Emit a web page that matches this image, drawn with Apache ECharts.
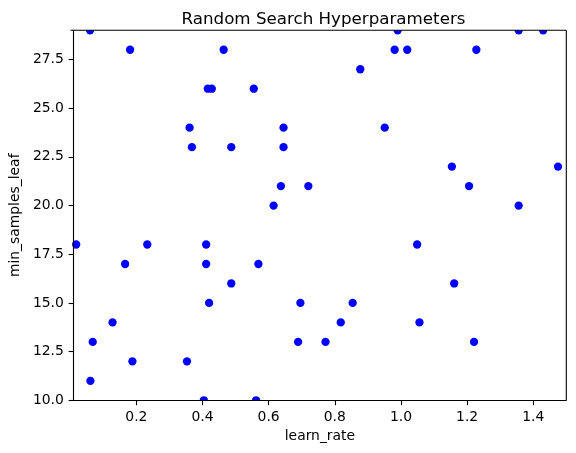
<!DOCTYPE html>
<html>
<head>
<meta charset="utf-8">
<script src="https://cdn.jsdelivr.net/npm/echarts@6/dist/echarts.min.js"></script>
<style>html,body{margin:0;padding:0;background:#fff}#c{width:576px;height:453px}</style>
</head>
<body>
<div id="c"></div>
<script>
const learnRate = [
  0.060, 0.990, 1.356, 1.430,
  0.181, 0.464, 0.981, 1.019, 1.228,
  0.877,
  0.416, 0.428, 0.555,
  0.361, 0.645, 0.951,
  0.368, 0.487, 0.645,
  1.154, 1.475,
  0.637, 0.720, 1.206,
  0.615, 1.356,
  0.018, 0.233, 0.411, 1.049,
  0.166, 0.411, 0.569,
  0.487, 1.161,
  0.420, 0.696, 0.854,
  0.128, 0.818, 1.056,
  0.068, 0.689, 0.772, 1.221,
  0.188, 0.353,
  0.061,
  0.404, 0.562
];
const minSamplesLeaf = [
  29, 29, 29, 29,
  28, 28, 28, 28, 28,
  27,
  26, 26, 26,
  24, 24, 24,
  23, 23, 23,
  22, 22,
  21, 21, 21,
  20, 20,
  18, 18, 18, 18,
  17, 17, 17,
  16, 16,
  15, 15, 15,
  14, 14, 14,
  13, 13, 13, 13,
  12, 12,
  11,
  10, 10
];
const xTicks = [0.2, 0.4, 0.6, 0.8, 1.0, 1.2, 1.4];
const yTicks = [10, 12.5, 15, 17.5, 20, 22.5, 25, 27.5];
const xRange = [0.01, 1.5];
const yRange = [10, 29];

const font = 'DejaVu Sans';
const G = {left: 70.5, top: 30.3, width: 495.8, height: 370};
const W = 576, H = 453;
const chart = echarts.init(document.getElementById('c'), null, {renderer: 'canvas'});
function axis(extra, ticks) {
  return Object.assign({
    type: 'value', z: 10, nameLocation: 'middle',
    axisLine: {show: true, onZero: false, lineStyle: {color: '#000', width: 1.1}},
    axisTick: {show: true, inside: false, length: 4.9, customValues: ticks,
               lineStyle: {color: '#000', width: 1.1}},
    splitLine: {show: false},
    axisLabel: {color: '#000', fontFamily: font, fontSize: 13.9, margin: 9.7,
                customValues: ticks, formatter: v => Number(v).toFixed(1)},
    nameTextStyle: {color: '#000', fontFamily: font, fontSize: 13.9}
  }, extra);
}
const white = {fill: '#fff'};
chart.setOption({
  animation: false,
  backgroundColor: '#fff',
  title: {
    text: 'Random Search Hyperparameters', z: 20,
    left: 318.5, top: 6, textAlign: 'center',
    textStyle: {color: '#000', fontFamily: font, fontSize: 16.7, fontWeight: 'normal'}
  },
  grid: Object.assign({containLabel: false}, G),
  xAxis: axis({min: xRange[0], max: xRange[1], name: 'learn_rate', nameGap: 26}, xTicks),
  yAxis: axis({min: yRange[0], max: yRange[1], name: 'min_samples_leaf', nameGap: 46}, yTicks),
  series: [{
    type: 'scatter', z: 2,
    data: learnRate.map((x, i) => [x, minSamplesLeaf[i]]),
    symbolSize: 8.3,
    itemStyle: {color: '#0000ff', opacity: 1}
  }],
  graphic: [
    {type: 'rect', z: 5, silent: true, shape: {x: 0, y: 0, width: W, height: G.top}, style: white},
    {type: 'rect', z: 5, silent: true, shape: {x: 0, y: G.top + G.height, width: W, height: H}, style: white},
    {type: 'rect', z: 5, silent: true, shape: {x: 0, y: 0, width: G.left, height: H}, style: white},
    {type: 'rect', z: 5, silent: true, shape: {x: G.left + G.width, y: 0, width: W, height: H}, style: white},
    {type: 'line', z: 15, silent: true,
     shape: {x1: G.left, y1: G.top, x2: G.left + G.width, y2: G.top},
     style: {stroke: '#000', lineWidth: 1.1}},
    {type: 'line', z: 15, silent: true,
     shape: {x1: G.left + G.width, y1: G.top, x2: G.left + G.width, y2: G.top + G.height},
     style: {stroke: '#000', lineWidth: 1.1}}
  ]
});
</script>
</body>
</html>
